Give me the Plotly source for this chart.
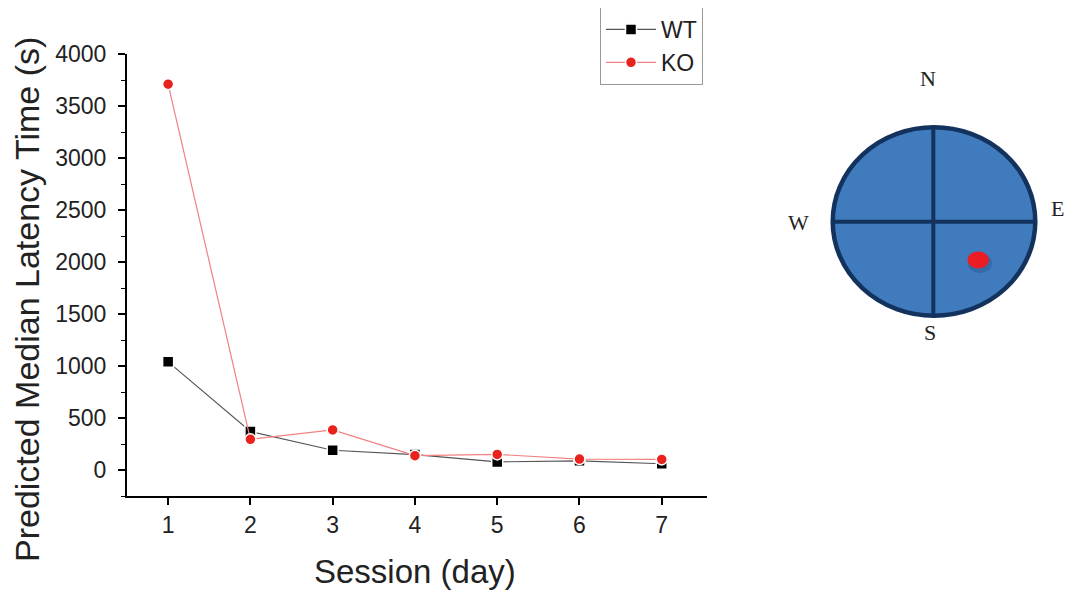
import plotly.graph_objects as go

# page body has an 8px margin; figure fills the rest of the 1073x600 window
OFF = 8
W, H = 1073 - 2 * OFF, 600 - 2 * OFF

sessions = [1, 2, 3, 4, 5, 6, 7]
wt_latency = [1040, 370, 190, 148, 78, 88, 60]
ko_latency = [3710, 295, 385, 138, 150, 105, 102]
series_names = ["WT", "KO"]
y_ticks = [0, 500, 1000, 1500, 2000, 2500, 3000, 3500, 4000]
compass_labels = ["N", "S", "W", "E"]


def px(x):
    return (x - OFF) / W


def py(y):
    return 1 - (y - OFF) / H


fig = go.Figure()
fig.add_trace(go.Scatter(
    x=sessions, y=wt_latency, name=series_names[0], mode="lines+markers",
    line=dict(color="#555555", width=1.2),
    marker=dict(symbol="square", size=11, color="black", line=dict(color="white", width=1.5)),
))
fig.add_trace(go.Scatter(
    x=sessions, y=ko_latency, name=series_names[1], mode="lines+markers",
    line=dict(color="#f38080", width=1.2),
    marker=dict(symbol="circle", size=11, color="#e8231d", line=dict(color="white", width=1.5)),
))

font_main = "Liberation Sans, Arial, sans-serif"

fig.update_xaxes(
    domain=[px(127), px(707)], range=[0.5, 7.55],
    tickvals=sessions, ticks="outside", ticklen=7, tickwidth=1.5, tickcolor="black",
    showline=True, linecolor="black", linewidth=2, showgrid=False, zeroline=False,
    tickfont=dict(family=font_main, size=23, color="#222"),
    automargin=False,
)
fig.update_yaxes(
    domain=[py(496), py(54)], range=[-250, 4000],
    tickvals=y_ticks, ticks="outside", ticklen=7, tickwidth=1.5, tickcolor="black",
    minor=dict(dtick=250, tick0=0, ticks="outside", ticklen=4, tickwidth=1.2, tickcolor="black"),
    showline=True, linecolor="black", linewidth=2, showgrid=False, zeroline=False,
    tickfont=dict(family=font_main, size=23, color="#222"),
    ticklabelstandoff=7, automargin=False,
)

annotations = [
    dict(text="Predicted Median Latency Time (s)", x=px(27), y=py(300), xref="paper", yref="paper",
         textangle=-90, showarrow=False, xanchor="center", yanchor="middle",
         font=dict(family=font_main, size=34, color="#222")),
    dict(text="Session (day)", x=px(415), y=py(571), xref="paper", yref="paper",
         showarrow=False, xanchor="center", yanchor="middle",
         font=dict(family=font_main, size=33, color="#222")),
]

label_pos = [(928, 78), (930, 333), (798, 222), (1057, 208)]
for lab, (lx, ly) in zip(compass_labels, label_pos):
    annotations.append(dict(text=lab, x=px(lx), y=py(ly), xref="paper", yref="paper",
                            showarrow=False, xanchor="center", yanchor="middle",
                            font=dict(family="Liberation Serif, DejaVu Serif, serif", size=22, color="#222")))

cx, cy, rx, ry = 934, 221.5, 101.3, 94.3
shapes = [
    dict(type="circle", xref="paper", yref="paper",
         x0=px(cx - rx), x1=px(cx + rx), y0=py(cy + ry), y1=py(cy - ry),
         fillcolor="#3f7bbd", line=dict(color="#13335e", width=4.5), layer="above"),
    dict(type="line", xref="paper", yref="paper",
         x0=px(cx - rx), x1=px(cx + rx), y0=py(221.7), y1=py(221.7),
         line=dict(color="#13335e", width=4), layer="above"),
    dict(type="line", xref="paper", yref="paper",
         x0=px(933.3), x1=px(933.3), y0=py(cy - ry), y1=py(cy + ry),
         line=dict(color="#13335e", width=4), layer="above"),
    dict(type="circle", xref="paper", yref="paper",
         x0=px(968), x1=px(992), y0=py(273), y1=py(254),
         fillcolor="rgba(20,45,90,0.22)", line=dict(width=0), layer="above"),
    dict(type="circle", xref="paper", yref="paper",
         x0=px(967.5), x1=px(989), y0=py(268.5), y1=py(251.5),
         fillcolor="#ec1c24", line=dict(width=0), layer="above"),
]

fig.update_layout(
    width=W, height=H,
    margin=dict(l=0, r=0, t=0, b=0, pad=0, autoexpand=False),
    paper_bgcolor="white", plot_bgcolor="rgba(0,0,0,0)",
    showlegend=True,
    legend=dict(x=px(703), xanchor="right", y=py(7), yanchor="top",
                bordercolor="#999", borderwidth=1, bgcolor="white",
                font=dict(family=font_main, size=23, color="#222"),
                itemwidth=50, tracegroupgap=0),
    annotations=annotations,
    shapes=shapes,
)

fig.write_html("out.html")
